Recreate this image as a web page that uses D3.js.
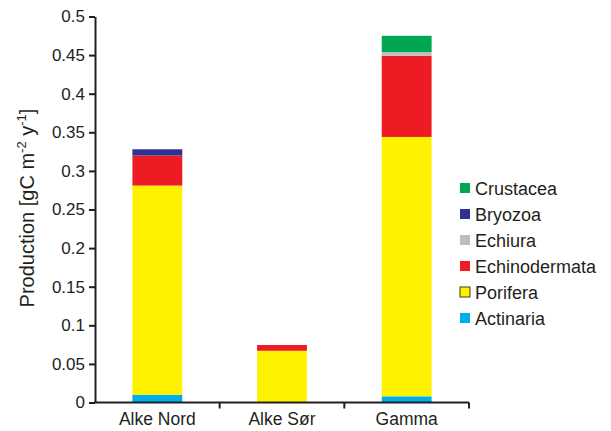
<!DOCTYPE html>
<html>
<head>
<meta charset="utf-8">
<script src="https://cdn.jsdelivr.net/npm/d3@7"></script>
<style>
  html, body { margin: 0; padding: 0; background: #fff; }
  svg { display: block; }
  text { font-family: "Liberation Sans", Arial, sans-serif; fill: #231f20; }
</style>
</head>
<body>
<svg id="chart" width="611" height="431"></svg>
<script>
// Stations along the x axis
const stations = ["Alke Nord", "Alke Sør", "Gamma"];

// Taxa, stacked from the bottom up
const taxa = ["Actinaria", "Porifera", "Echinodermata", "Echiura", "Bryozoa", "Crustacea"];

// Production per taxon at each station (gC m^-2 y^-1), in station order
const actinaria     = [0.010, 0.000, 0.008];
const porifera      = [0.271, 0.067, 0.336];
const echinodermata = [0.039, 0.0075, 0.105];
const echiura       = [0.000, 0.000, 0.005];
const bryozoa       = [0.008, 0.000, 0.000];
const crustacea     = [0.000, 0.000, 0.021];

const yTicks = [0, 0.05, 0.1, 0.15, 0.2, 0.25, 0.3, 0.35, 0.4, 0.45, 0.5];

const colors = {
  Actinaria: "#00aeef",
  Porifera: "#fff200",
  Echinodermata: "#ed1c24",
  Echiura: "#bcbec0",
  Bryozoa: "#2e3192",
  Crustacea: "#00a651"
};

const series = { Actinaria: actinaria, Porifera: porifera, Echinodermata: echinodermata,
                 Echiura: echiura, Bryozoa: bryozoa, Crustacea: crustacea };

const rows = stations.map((s, i) => {
  const r = { station: s };
  taxa.forEach(t => r[t] = series[t][i]);
  return r;
});

const svg = d3.select("#chart");
const plotLeft = 95, plotRight = 469, plotTop = 16.5, plotBottom = 402.5;

const x = d3.scaleBand().domain(stations).range([plotLeft, plotRight]).paddingInner(0.6).paddingOuter(0.3);
const y = d3.scaleLinear().domain([0, 0.5]).range([plotBottom, plotTop]);

const stack = d3.stack().keys(taxa)(rows);

svg.append("g")
  .selectAll("g")
  .data(stack)
  .join("g")
  .attr("fill", d => colors[d.key])
  .selectAll("rect")
  .data(d => d.filter(p => p[1] - p[0] > 0))
  .join("rect")
  .attr("x", d => x(d.data.station))
  .attr("width", x.bandwidth())
  .attr("y", d => y(d[1]))
  .attr("height", d => y(d[0]) - y(d[1]));

// y axis
const yAxis = svg.append("g")
  .attr("transform", `translate(${plotLeft},0)`)
  .call(d3.axisLeft(y).tickValues(yTicks).tickFormat(d => String(d)).tickSize(6).tickSizeOuter(0).tickPadding(4));
yAxis.select(".domain").attr("stroke", "#231f20").attr("stroke-width", 2);
yAxis.selectAll(".tick line").attr("stroke", "#231f20").attr("stroke-width", 2);
yAxis.selectAll(".tick text").attr("font-size", 17).attr("fill", "#231f20")
  .style("font-family", "'Liberation Sans', Arial, sans-serif");

// x axis: ticks sit on the boundaries between stations
const step = x.step();
const bounds = stations.map((s, i) => plotLeft + step * (i + 1));
const xg = svg.append("g");
xg.append("line")
  .attr("x1", plotLeft - 1).attr("x2", plotRight)
  .attr("y1", plotBottom).attr("y2", plotBottom)
  .attr("stroke", "#231f20").attr("stroke-width", 2);
xg.selectAll("line.tk")
  .data(bounds)
  .join("line")
  .attr("class", "tk")
  .attr("x1", d => d).attr("x2", d => d)
  .attr("y1", plotBottom).attr("y2", plotBottom + 6)
  .attr("stroke", "#231f20").attr("stroke-width", 2);
xg.selectAll("text")
  .data(stations)
  .join("text")
  .attr("x", d => x(d) + x.bandwidth() / 2)
  .attr("y", 425)
  .attr("text-anchor", "middle")
  .attr("font-size", 17.5)
  .text(d => d);

// y axis title
const title = svg.append("text")
  .attr("transform", "translate(34,208) rotate(-90)")
  .attr("text-anchor", "middle")
  .attr("font-size", 20);
title.append("tspan").text("Production [gC m");
title.append("tspan").attr("dy", -8).attr("font-size", 13).text("-2");
title.append("tspan").attr("dy", 8).text(" y");
title.append("tspan").attr("dy", -8).attr("font-size", 13).text("-1");
title.append("tspan").attr("dy", 8).text("]");

// legend, top entry is the top of the stack
const legendOrder = taxa.slice().reverse();
const lg = svg.append("g").selectAll("g")
  .data(legendOrder)
  .join("g")
  .attr("transform", (d, i) => `translate(460,${188 + i * 26})`);
lg.append("rect")
  .attr("x", 0).attr("y", -5).attr("width", 10).attr("height", 10)
  .attr("fill", d => colors[d])
  .attr("stroke", d => d === "Porifera" ? "#3d3d1a" : "none")
  .attr("stroke-width", 1);
lg.append("text")
  .attr("x", 15).attr("y", 6.5)
  .attr("font-size", 18)
  .text(d => d);
</script>
</body>
</html>
